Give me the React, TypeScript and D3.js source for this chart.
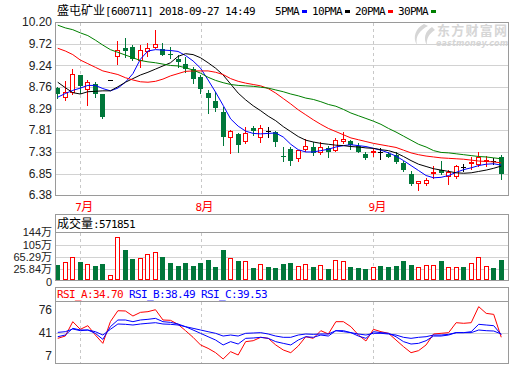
import React, { useEffect, useRef } from "react";
import * as d3 from "d3";

// 日K数据（2018-06-27 ~ 2018-09-27）
const opens = [
  8.74, 8.54, 8.66, 9.03, 8.72, 8.83, 8.61, 8.92, 9.44, 9.62,
  9.65, 9.36, 9.56, 9.64, 9.6, 9.5, 9.38, 9.28, 9.16, 8.98,
  8.64, 8.46, 8.21, 7.66, 7.73, 7.58, 7.87, 7.66, 7.8, 7.77,
  7.24, 7.4, 7.2, 7.4, 7.45, 7.33, 7.42, 7.38, 7.57, 7.57,
  7.47, 7.29, 7.32, 7.33, 7.29, 7.27, 7.09, 6.85, 6.65, 6.65,
  6.86, 6.93, 6.81, 6.79, 6.99, 7.08, 7.07, 7.12, 7.14, 7.23,
];
const highs = [
  8.76, 8.9, 9.16, 9.03, 8.92, 8.87, 8.61, 8.92, 9.78, 9.84,
  9.69, 9.7, 9.73, 10.02, 9.73, 9.64, 9.48, 9.42, 9.21, 9.03,
  8.7, 8.66, 8.32, 7.82, 7.76, 7.88, 7.91, 7.93, 7.89, 7.8,
  7.45, 7.45, 7.38, 7.62, 7.54, 7.54, 7.47, 7.64, 7.78, 7.6,
  7.53, 7.34, 7.42, 7.42, 7.34, 7.32, 7.14, 6.9, 6.69, 6.75,
  7.01, 7.14, 6.94, 7.04, 7.07, 7.22, 7.32, 7.25, 7.2, 7.27,
];
const lows = [
  8.52, 8.48, 8.61, 8.64, 8.37, 8.54, 8.09, 8.92, 9.27, 9.43,
  9.36, 9.21, 9.45, 9.62, 9.48, 9.4, 9.21, 9.09, 8.85, 8.64,
  8.19, 8.24, 7.48, 7.31, 7.33, 7.53, 7.71, 7.56, 7.67, 7.47,
  7.12, 7.05, 7.12, 7.36, 7.27, 7.29, 7.22, 7.36, 7.53, 7.4,
  7.32, 7.18, 7.25, 7.18, 7.22, 7.09, 6.92, 6.61, 6.49, 6.59,
  6.76, 6.85, 6.63, 6.76, 6.9, 6.96, 7.01, 7.01, 7.07, 6.74,
];
const closes = [
  8.6, 8.66, 9.05, 8.79, 8.88, 8.6, 8.11, 8.92, 9.59, 9.57,
  9.39, 9.59, 9.63, 9.72, 9.48, 9.48, 9.31, 9.17, 8.95, 8.71,
  8.53, 8.3, 7.66, 7.79, 7.48, 7.76, 7.8, 7.86, 7.8, 7.55,
  7.23, 7.14, 7.37, 7.47, 7.3, 7.43, 7.34, 7.6, 7.62, 7.49,
  7.32, 7.2, 7.35, 7.33, 7.23, 7.1, 6.93, 6.63, 6.68, 6.72,
  6.88, 6.87, 6.89, 7.01, 6.99, 7.1, 7.21, 7.15, 7.14, 6.85,
];
// 成交量（万）
const volumes = [
  40, 48.5, 65.6, 49.6, 42.1, 36.8, 42.1, 6.9, 128.5, 88,
  59.2, 61.3, 74.1, 80.5, 65.6, 46.4, 36.8, 46.4, 36.8, 46.4,
  56, 33.6, 88, 61.3, 52.8, 51.7, 30.4, 42.1, 33.6, 30.4,
  43.2, 46.4, 36.8, 42.1, 33.6, 40, 27.2, 54.9, 51.7, 33.6,
  30.4, 27.2, 33.6, 36.8, 33.6, 36.8, 52.8, 40, 33.6, 40,
  40, 52.8, 33.6, 33.6, 33.6, 46.4, 65.6, 36.8, 30.4, 57.19,
];
// 均线
const ma5 = [
  8.54, 8.62, 8.69, 8.74, 8.8, 8.8, 8.73, 8.68, 8.74, 8.87,
  9.06, 9.38, 9.56, 9.59, 9.58, 9.57, 9.55, 9.46, 9.34, 9.18,
  8.92, 8.65, 8.36, 8.06, 7.9, 7.79, 7.74, 7.73, 7.74, 7.75,
  7.66, 7.5, 7.38, 7.33, 7.33, 7.36, 7.39, 7.44, 7.47, 7.49,
  7.47, 7.45, 7.41, 7.37, 7.31, 7.24, 7.14, 7.03, 6.92, 6.81,
  6.76, 6.77, 6.81, 6.88, 6.94, 6.98, 7.03, 7.06, 7.07, 7.04,
];
const ma10 = [
  8.87, 8.75, 8.64, 8.61, 8.66, 8.67, 8.68, 8.68, 8.77, 8.87,
  8.95, 9.03, 9.09, 9.16, 9.23, 9.3, 9.44, 9.5, 9.48, 9.41,
  9.3, 9.18, 9.03, 8.83, 8.63, 8.48, 8.35, 8.24, 8.12, 8.02,
  7.89, 7.78, 7.67, 7.59, 7.55, 7.52, 7.5, 7.48, 7.47, 7.45,
  7.44, 7.42, 7.41, 7.38, 7.36, 7.31, 7.23, 7.14, 7.06, 7.01,
  6.96, 6.93, 6.9, 6.87, 6.86, 6.87, 6.9, 6.93, 6.97, 7.02,
];
const ma20 = [
  9.62, 9.56, 9.48, 9.36, 9.28, 9.2, 9.12, 9.08, 9.04, 8.97,
  8.92, 8.88, 8.87, 8.89, 8.94, 9.01, 9.06, 9.11, 9.12, 9.12,
  9.12, 9.09, 9.04, 8.95, 8.89, 8.85, 8.82, 8.79, 8.73, 8.63,
  8.51, 8.39, 8.26, 8.15, 8.04, 7.94, 7.85, 7.78, 7.71, 7.64,
  7.6, 7.56, 7.52, 7.49, 7.46, 7.43, 7.37, 7.31, 7.27, 7.24,
  7.22, 7.2, 7.19, 7.18, 7.17, 7.15, 7.13, 7.12, 7.11, 7.09,
];
const ma30 = [
  10.13, 10.07, 10.03, 9.96, 9.9, 9.8, 9.69, 9.59, 9.53, 9.47,
  9.41, 9.35, 9.32, 9.3, 9.27, 9.24, 9.23, 9.19, 9.14, 9.07,
  8.98, 8.91, 8.86, 8.82, 8.8, 8.79, 8.78, 8.76, 8.74, 8.7,
  8.66, 8.61, 8.57, 8.52, 8.49, 8.44, 8.38, 8.34, 8.27, 8.19,
  8.13, 8.07, 8.01, 7.94, 7.85, 7.77, 7.68, 7.59, 7.5, 7.44,
  7.36, 7.32, 7.31, 7.29, 7.27, 7.25, 7.23, 7.22, 7.2, 7.18,
];
// RSI
const rsiA = [
  33.1, 36.5, 57.7, 46.4, 51.8, 38, 25.7, 57.7, 73.9, 73.5,
  66.1, 71.5, 72.5, 75.4, 60.2, 59.7, 53.8, 44.4, 34.6, 23.3,
  18.3, 11.9, 2.6, 13.4, 8.5, 28.2, 29.6, 34.6, 33.1, 23.3,
  15.9, 11.9, 21.8, 35.5, 33.1, 44.4, 39.5, 57.7, 57.7, 50.3,
  38, 29.2, 46.4, 42.9, 40.5, 30.6, 20.8, 11.9, 14.9, 23.3,
  39.5, 40.5, 41.5, 56.2, 55.3, 56.2, 79.9, 70, 68.5, 34.7,
];
const rsiB = [
  35.5, 38, 47.9, 45.4, 45.4, 40.5, 31.6, 50.3, 60.2, 60.2,
  57.7, 60.2, 61.2, 62.6, 57.7, 56.7, 54.3, 50.3, 45.4, 40.5,
  35.5, 30.6, 23.3, 28.2, 24.7, 33.1, 33.6, 34.6, 33.1, 28.2,
  25.7, 23.3, 30.6, 35.5, 34.6, 38, 36.5, 44.4, 44.4, 41.5,
  36.5, 33.1, 42.9, 41.5, 40.5, 35.5, 28.2, 24.7, 25.7, 29.6,
  36.5, 36.5, 38, 41.5, 41.5, 42.9, 53.8, 52.8, 51.8, 38.49,
];
const rsiC = [
  41.9, 42.9, 46.9, 44.4, 45.4, 42.9, 38, 46.4, 54.3, 53.8,
  52.8, 54.3, 55.3, 56.2, 54.3, 53.8, 52.8, 50.3, 47.9, 45.4,
  42.9, 40.5, 36.5, 38, 36.5, 40.5, 41, 41.5, 39.5, 36.5,
  34.6, 34.6, 38, 39.5, 39, 39.5, 39.5, 44.4, 42.9, 41.5,
  39.5, 38, 40.5, 40.5, 39.5, 38, 34.6, 33.1, 34.6, 35.5,
  38, 38, 39, 41.5, 41.5, 41.5, 45.4, 44.4, 43.9, 39.53,
];

const priceTicks = [10.2, 9.72, 9.24, 8.76, 8.29, 7.81, 7.33, 6.85, 6.38];
const volumeTicks = [144, 105, 65.29, 25.84, 0];
const volumeTickLabels = ["144万", "105万", "65.29万", "25.84万", "0"];
const rsiTicks = [76, 41, 7];
const monthStarts = [3, 19, 42];
const monthDigits = ["7", "8", "9"];
const maNames = ["5PMA", "10PMA", "20PMA", "30PMA"];
const lastVolume = "571851";
const rsiNames = ["RSI_A", "RSI_B", "RSI_C"];

const UP = "#ff0000";
const DOWN = "#00773a";
const FRAME = "#9a9a9a";
const GRID = "#d2d2d2";
const CJK = "'Noto Sans CJK SC', sans-serif";
const MONO = "'DejaVu Sans Mono', monospace";
const SANS = "'Liberation Sans', 'Noto Sans CJK SC', sans-serif";

const App: React.FC = () => {
  const svgRef = useRef<SVGSVGElement>(null);

  useEffect(() => {
    if (!svgRef.current) return;
    document.body.style.margin = "0";
    const svg = d3.select(svgRef.current);
    svg.selectAll("*").remove();

    const left = 55;
    const right = 508;
    const main = { top: 22, bottom: 195 };
    const vol = { top: 214, head: 232, bottom: 280 };
    const rsi = { top: 287, head: 301, bottom: 363 };
    const snap = (v: number) => Math.round(v) + 0.5;

    const n = closes.length;
    const x = d3
      .scaleBand<number>()
      .domain(d3.range(n))
      .range([54, 505])
      .paddingInner(0.27)
      .paddingOuter(0.135);
    const cx = (i: number) => (x(i) ?? 0) + x.bandwidth() / 2;
    const bx = (i: number) => Math.round(cx(i) - 2.5);

    const y = d3.scaleLinear().domain([6.38, 10.2]).range([main.bottom, main.top]);
    const yv = d3.scaleLinear().domain([0, 144]).range([277.5, 232.5]);
    const yr = d3.scaleLinear().domain([7, 76]).range([356, 309.3]);

    svg.append("rect").attr("width", 520).attr("height", 365).attr("fill", "#fff");

    const defs = svg.append("defs");
    defs.append("clipPath").attr("id", "clipMain").append("rect")
      .attr("x", left + 1).attr("y", main.top + 1).attr("width", right - left - 1).attr("height", main.bottom - main.top - 1);
    defs.append("clipPath").attr("id", "clipRsi").append("rect")
      .attr("x", left + 1).attr("y", rsi.head + 1).attr("width", right - left - 1).attr("height", rsi.bottom - rsi.head - 1);

    // helper: text made of cjk / mono pieces
    const label = (
      g: d3.Selection<any, unknown, null, undefined>,
      xx: number,
      yy: number,
      parts: [string, "cjk" | "mono"][],
      color: string
    ) => {
      const t = g.append("text").attr("x", xx).attr("y", yy).attr("fill", color);
      parts.forEach(([s, kind]) => {
        const sp = t.append("tspan").text(s);
        if (kind === "cjk") sp.style("font-family", CJK).style("font-size", "12px");
        else sp.style("font-family", MONO).style("font-size", "11px").style("letter-spacing", "-0.62px");
      });
      return t;
    };

    // title + legend
    label(svg, 57, 15, [["盛屯矿业", "cjk"], ["[600711] 2018-09-27 14:49", "mono"]], "#000");
    const maColors = ["#0000ff", "#000000", "#ff0000", "#008000"];
    let lx = 275;
    maNames.forEach((name, k) => {
      label(svg, lx, 15, [[name, "mono"]], "#000");
      lx += name.length * 6;
      svg.append("rect").attr("x", lx + 3).attr("y", 10).attr("width", 5).attr("height", 3).attr("fill", maColors[k]);
      lx += 13;
    });

    // ---------- main panel ----------
    const gm = svg.append("g");
    priceTicks.forEach((p) => {
      gm.append("line")
        .attr("x1", left).attr("x2", right)
        .attr("y1", snap(y(p))).attr("y2", snap(y(p)))
        .attr("stroke", GRID);
      gm.append("text")
        .attr("x", 52).attr("y", y(p)).attr("dy", "0.35em")
        .attr("text-anchor", "end")
        .style("font-family", SANS).style("font-size", "12px")
        .attr("fill", "#222")
        .text(p.toFixed(2));
    });

    const dashed = (y1: number, y2: number) => {
      monthStarts.forEach((i) => {
        svg.append("line")
          .attr("x1", snap(cx(i))).attr("x2", snap(cx(i)))
          .attr("y1", y1).attr("y2", y2)
          .attr("stroke", "#c8c8c8").attr("stroke-dasharray", "3,3");
      });
    };
    dashed(main.top + 1, main.bottom);
    dashed(vol.head + 1, vol.bottom);
    dashed(rsi.head + 1, rsi.bottom);

    // watermark
    const wm = svg.append("g").attr("fill", "#d6d6d6");
    wm.append("path").attr("d", "M424,24 C416,28 412,37 417,45 C415,36 420,30 428,26 Z");
    wm.append("path").attr("d", "M432,27 C425,31 423,39 427,45 C426,38 430,33 435,30 Z");
    wm.append("text").attr("x", 437).attr("y", 35)
      .style("font-family", CJK).style("font-size", "13px").style("font-weight", "bold")
      .attr("textLength", 70).text("东方财富网");
    wm.append("text").attr("x", 436).attr("y", 46)
      .style("font-family", "'DejaVu Sans', sans-serif").style("font-size", "8px")
      .style("font-weight", "bold").style("font-style", "italic")
      .attr("textLength", 72).text("eastmoney.com");

    // candles
    const gc = svg.append("g").attr("clip-path", "url(#clipMain)");
    d3.range(n).forEach((i) => {
      const o = opens[i], c = closes[i];
      const x0 = bx(i);
      const wx = x0 + 2.5;
      const color = c > o ? UP : c < o ? DOWN : "#000";
      gc.append("line")
        .attr("x1", wx).attr("x2", wx)
        .attr("y1", Math.round(y(highs[i]))).attr("y2", Math.round(y(lows[i])) + 1)
        .attr("stroke", color);
      const top = Math.round(y(Math.max(o, c)));
      const bot = Math.round(y(Math.min(o, c)));
      if (c > o) {
        gc.append("rect")
          .attr("x", x0 + 0.5).attr("y", top + 0.5)
          .attr("width", 4).attr("height", Math.max(1, bot - top))
          .attr("fill", "#fff").attr("stroke", UP);
      } else if (c < o) {
        gc.append("rect")
          .attr("x", x0).attr("y", top)
          .attr("width", 5).attr("height", Math.max(1, bot - top))
          .attr("fill", DOWN);
      } else {
        gc.append("line")
          .attr("x1", x0).attr("x2", x0 + 5)
          .attr("y1", top + 0.5).attr("y2", top + 0.5)
          .attr("stroke", "#000");
      }
    });

    // moving averages
    const maSeries = [ma5, ma10, ma20, ma30];
    const priceLine = d3.line<number>().x((_, i) => cx(i)).y((d) => y(d));
    maSeries.forEach((s, k) => {
      gc.append("path").attr("d", priceLine(s) || "")
        .attr("fill", "none").attr("stroke", maColors[k]).attr("stroke-width", 1);
    });

    gm.append("rect")
      .attr("x", left + 0.5).attr("y", main.top + 0.5)
      .attr("width", right - left).attr("height", main.bottom - main.top)
      .attr("fill", "none").attr("stroke", FRAME);

    // month labels
    monthStarts.forEach((i, k) => {
      label(svg, cx(i) - 5, 211, [[monthDigits[k], "mono"], ["月", "cjk"]], "#ff0000");
    });

    // ---------- volume panel ----------
    const gv = svg.append("g");
    volumeTicks.forEach((v, k) => {
      if (v > 0 && v < 144) {
        gv.append("line")
          .attr("x1", left).attr("x2", right)
          .attr("y1", snap(yv(v))).attr("y2", snap(yv(v)))
          .attr("stroke", GRID);
      }
      gv.append("text")
        .attr("x", 52).attr("y", v === 0 ? vol.bottom + 2 : yv(v)).attr("dy", "0.35em")
        .attr("text-anchor", "end")
        .style("font-family", SANS).style("font-size", "11px")
        .attr("fill", "#222")
        .text(volumeTickLabels[k]);
    });
    d3.range(n).forEach((i) => {
      const o = opens[i], c = closes[i];
      const up = c > o || (c === o && i > 0 && c > closes[i - 1]);
      const x0 = bx(i);
      const top = Math.round(yv(volumes[i]));
      if (up) {
        gv.append("rect")
          .attr("x", x0 + 0.5).attr("y", top + 0.5)
          .attr("width", 4).attr("height", vol.bottom - top - 1)
          .attr("fill", "#fff").attr("stroke", UP);
      } else {
        gv.append("rect")
          .attr("x", x0).attr("y", top)
          .attr("width", 5).attr("height", vol.bottom - top)
          .attr("fill", DOWN);
      }
    });
    gv.append("rect")
      .attr("x", left + 0.5).attr("y", vol.top + 0.5)
      .attr("width", right - left).attr("height", vol.bottom - vol.top)
      .attr("fill", "none").attr("stroke", FRAME);
    gv.append("line")
      .attr("x1", left).attr("x2", right)
      .attr("y1", vol.head + 0.5).attr("y2", vol.head + 0.5)
      .attr("stroke", FRAME);
    label(gv, 57, 228, [["成交量", "cjk"], [":" + lastVolume, "mono"]], "#000");

    // ---------- RSI panel ----------
    const gr = svg.append("g");
    rsiTicks.forEach((v) => {
      if (v === 41) {
        gr.append("line")
          .attr("x1", left).attr("x2", right)
          .attr("y1", snap(yr(v))).attr("y2", snap(yr(v)))
          .attr("stroke", GRID);
      }
      gr.append("text")
        .attr("x", 52).attr("y", yr(v)).attr("dy", "0.35em")
        .attr("text-anchor", "end")
        .style("font-family", SANS).style("font-size", "12px")
        .attr("fill", "#222")
        .text(String(v));
    });
    const rsiLine = d3.line<number>().x((_, i) => cx(i)).y((d) => yr(d));
    const rsiSeries = [rsiA, rsiB, rsiC];
    const rsiColors = ["#ff0000", "#0000ff", "#0000ff"];
    const gl = gr.append("g").attr("clip-path", "url(#clipRsi)");
    rsiSeries.forEach((s, k) => {
      gl.append("path").attr("d", rsiLine(s) || "")
        .attr("fill", "none").attr("stroke", rsiColors[k]).attr("stroke-width", 1);
    });
    gr.append("rect")
      .attr("x", left + 0.5).attr("y", rsi.top + 0.5)
      .attr("width", right - left).attr("height", rsi.bottom - rsi.top)
      .attr("fill", "none").attr("stroke", FRAME);
    gr.append("line")
      .attr("x1", left).attr("x2", right)
      .attr("y1", rsi.head + 0.5).attr("y2", rsi.head + 0.5)
      .attr("stroke", FRAME);
    let rx = 57;
    rsiSeries.forEach((s, k) => {
      const txt = `${rsiNames[k]}:${s[s.length - 1].toFixed(2)}`;
      label(gr, rx, 298, [[txt, "mono"]], rsiColors[k]);
      rx += (txt.length + 1) * 6;
    });
  }, []);

  return (
    <svg
      ref={svgRef}
      width={520}
      height={365}
      style={{ position: "absolute", left: 0, top: 0, display: "block" }}
    />
  );
};

export default App;
